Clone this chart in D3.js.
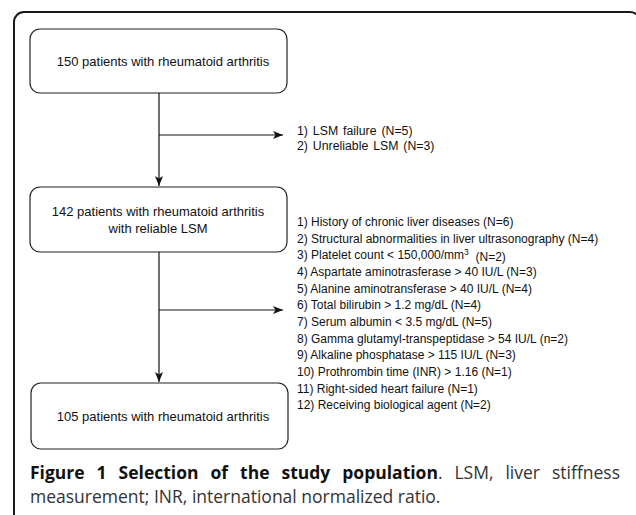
<!DOCTYPE html>
<html><head><meta charset="utf-8">
<script src="https://cdn.jsdelivr.net/npm/d3@7"></script>
<style>html,body{margin:0;padding:0;background:#fff;}svg{display:block;}</style>
</head><body>
<svg id="c" width="636" height="515"></svg>
<script>
// ---- data ----
const boxLabels = [
  ["150 patients with rheumatoid arthritis"],
  ["142 patients with rheumatoid arthritis", "with reliable LSM"],
  ["105 patients with rheumatoid arthritis"]
];
const exclusion1 = ["1) LSM failure (N=5)", "2) Unreliable LSM (N=3)"];
const exclusion2 = [
  "1) History of chronic liver diseases (N=6)",
  "2) Structural abnormalities in liver ultrasonography (N=4)",
  "3) Platelet count < 150,000/mm|3|  (N=2)",
  "4) Aspartate aminotrasferase > 40 IU/L (N=3)",
  "5) Alanine aminotransferase > 40 IU/L (N=4)",
  "6) Total bilirubin > 1.2 mg/dL (N=4)",
  "7) Serum albumin < 3.5 mg/dL (N=5)",
  "8) Gamma glutamyl-transpeptidase > 54 IU/L (n=2)",
  "9) Alkaline phosphatase > 115 IU/L (N=3)",
  "10) Prothrombin time (INR) > 1.16 (N=1)",
  "11) Right-sided heart failure (N=1)",
  "12) Receiving biological agent (N=2)"
];
const captionBold = "Figure 1 Selection of the study population";
const captionRest = ". LSM, liver stiffness";
const captionLine2 = "measurement; INR, international normalized ratio.";

// ---- layout ----
const svg = d3.select("#c");
const defs = svg.append("defs");
defs.append("marker").attr("id","ah").attr("viewBox","0 0 10 10")
  .attr("refX",10).attr("refY",5).attr("markerWidth",10).attr("markerHeight",10)
  .attr("markerUnits","userSpaceOnUse").attr("orient","auto")
  .append("path").attr("d","M0,1 L10,5 L0,9 L2.5,5 Z").attr("fill","#111");

// outer frame
svg.append("rect").attr("x",14).attr("y",12).attr("width",626).attr("height",700)
  .attr("rx",10).attr("fill","none").attr("stroke","#1a1a1a").attr("stroke-width",2);

const boxes = [
  {x:30, y:29, w:257, h:64, tx:163},
  {x:30, y:187, w:257, h:65, tx:158},
  {x:31, y:383, w:257, h:66, tx:163}
];
const font = "'Liberation Sans', Arial, sans-serif";
const cx = 159;

boxes.forEach((b,i)=>{
  svg.append("rect").attr("x",b.x).attr("y",b.y).attr("width",b.w).attr("height",b.h)
    .attr("rx",10).attr("fill","#fff").attr("stroke","#222").attr("stroke-width",1.2);
  const lines = boxLabels[i];
  const lh = 17;
  const y0 = b.y + b.h/2 - (lines.length-1)*lh/2;
  lines.forEach((t,j)=>{
    svg.append("text").attr("x",b.tx).attr("y",y0 + j*lh).attr("dy","0.35em")
      .attr("text-anchor","middle").attr("font-family",font).attr("font-size",13)
      .attr("fill","#111").text(t);
  });
});

const line = (x1,y1,x2,y2,arrow)=>{
  const l = svg.append("line").attr("x1",x1).attr("y1",y1).attr("x2",x2).attr("y2",y2)
    .attr("stroke","#111").attr("stroke-width",1.2);
  if(arrow) l.attr("marker-end","url(#ah)");
};
line(cx,93,cx,186,true);
line(cx,135,283,135,true);
line(cx,252,cx,382,true);
line(cx,310,283,310,true);

// exclusion lists
const y1 = d3.scalePoint().domain(d3.range(exclusion1.length)).range([131,146]);
exclusion1.forEach((t,i)=>{
  svg.append("text").attr("x",297).attr("y",y1(i)).attr("dy","0.35em")
    .attr("font-family",font).attr("font-size",12.3).attr("word-spacing",1.5)
    .attr("fill","#111").text(t);
});
const y2 = d3.scalePoint().domain(d3.range(exclusion2.length)).range([222,405]);
exclusion2.forEach((t,i)=>{
  const tx = svg.append("text").attr("x",297).attr("y",y2(i)).attr("dy","0.35em")
    .attr("font-family",font).attr("font-size",12).attr("fill","#111");
  const parts = t.split("|");
  if(parts.length===1){ tx.text(t); }
  else {
    tx.append("tspan").text(parts[0]);
    tx.append("tspan").attr("font-size",8.5).attr("dy","-0.5em").text(parts[1]);
    tx.append("tspan").attr("dy","0.5em").style("white-space","pre").text(parts[2]);
  }
});

// caption (justified first line)
const cfont = "'Open Sans', 'Noto Sans', sans-serif";
const capX = 30, capRight = 620;
const cap = svg.append("text").attr("x",capX).attr("y",479)
  .attr("font-family",cfont).attr("font-size",17.5).attr("fill","#333");
cap.append("tspan").attr("font-weight","bold").attr("fill","#111").text(captionBold);
cap.append("tspan").text(captionRest);
const len = cap.node().getComputedTextLength();
const nSpaces = (captionBold + captionRest).split(" ").length - 1;
cap.attr("word-spacing", Math.max(0,(capRight - capX - len)/nSpaces));
svg.append("text").attr("x",capX).attr("y",503)
  .attr("font-family",cfont).attr("font-size",17.5).attr("fill","#333").text(captionLine2);
</script>
</body></html>
